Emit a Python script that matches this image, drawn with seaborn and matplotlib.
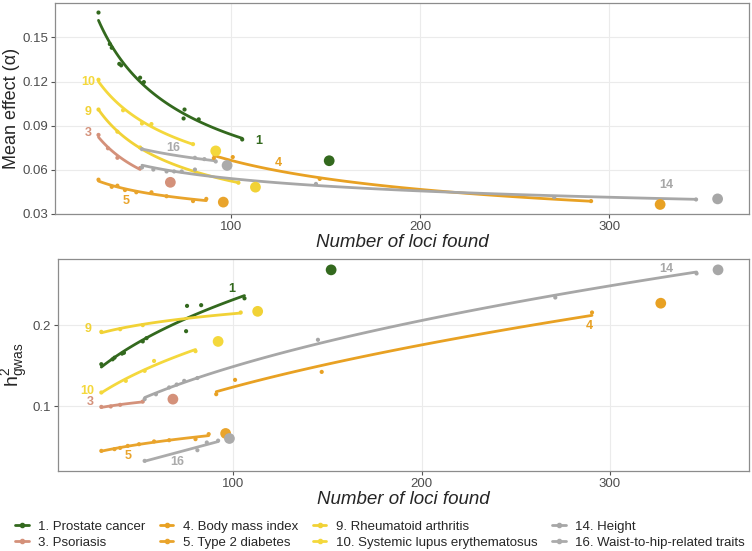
import numpy as np
import pandas as pd
import seaborn as sns
import matplotlib
matplotlib.use("Agg")
import matplotlib.pyplot as plt
from matplotlib.lines import Line2D

# ---------------- data ----------------
traits = ["1. Prostate cancer", "3. Psoriasis", "4. Body mass index", "5. Type 2 diabetes",
          "9. Rheumatoid arthritis", "10. Systemic lupus erythematosus", "14. Height",
          "16. Waist-to-hip-related traits"]
tags = ["1", "3", "4", "5", "9", "10", "14", "16"]
colors = ["#33691E", "#D4917A", "#E8A123", "#E9A42C", "#F1D236", "#F4D83C", "#A7A7A7", "#ABABAB"]

loci_1 = [30, 36, 37, 41, 42, 52, 54, 75, 75.5, 83, 106]
alpha_1 = [0.167, 0.1455, 0.143, 0.132, 0.131, 0.1226, 0.1196, 0.0948, 0.1009, 0.0942, 0.0805]
h2_1 = [0.152, 0.158, 0.160, 0.165, 0.166, 0.180, 0.184, 0.1926, 0.2237, 0.2246, 0.233]

loci_3 = [30, 35, 40, 52]
alpha_3 = [0.0836, 0.0745, 0.068, 0.061]
h2_3 = [0.0995, 0.100, 0.102, 0.106]

loci_4 = [91, 101, 147, 290.5]
alpha_4 = [0.0678, 0.0685, 0.0536, 0.0385]
h2_4 = [0.1151, 0.1327, 0.1425, 0.2156]

loci_5 = [30, 37, 40, 44, 50, 58, 66, 80, 87]
alpha_5 = [0.0531, 0.0482, 0.049, 0.046, 0.0445, 0.0445, 0.0418, 0.0385, 0.040]
h2_5 = [0.0454, 0.0475, 0.049, 0.0515, 0.0536, 0.057, 0.0585, 0.0598, 0.066]

loci_9 = [30, 40, 52, 104]
alpha_9 = [0.1009, 0.0858, 0.075, 0.051]
h2_9 = [0.1918, 0.195, 0.200, 0.2156]

loci_10 = [30, 43, 53, 58, 80]
alpha_10 = [0.1212, 0.1004, 0.0914, 0.091, 0.0773]
h2_10 = [0.1172, 0.1315, 0.1438, 0.156, 0.168]

loci_14 = [53, 59, 66, 70, 74, 81, 145, 271, 346]
alpha_14 = [0.0614, 0.060, 0.0587, 0.0587, 0.0587, 0.060, 0.0502, 0.0412, 0.0396]
h2_14 = [0.109, 0.115, 0.1234, 0.127, 0.1315, 0.135, 0.182, 0.234, 0.2636]

loci_16 = [53, 81, 86, 92]
alpha_16 = [0.0739, 0.068, 0.0671, 0.0655]
h2_16 = [0.0331, 0.0462, 0.0557, 0.058]

full_loci = [152, 68, 327, 96, 113, 92, 357.4, 98]
full_alpha = [0.066, 0.0513, 0.0362, 0.0378, 0.048, 0.0727, 0.040, 0.0628]
full_h2 = [0.268, 0.109, 0.227, 0.0668, 0.217, 0.180, 0.268, 0.0606]

lab_x_top = [114.7, 24.6, 124.9, 44.6, 24.6, 24.6, 330.2, 69.7]
lab_y_top = [0.0795, 0.0847, 0.0644, 0.0389, 0.0993, 0.1196, 0.0498, 0.0745]
lab_x_bot = [99.5, 24.1, 288.8, 44.5, 23.2, 22.3, 330.0, 70.2]
lab_y_bot = [0.2443, 0.105, 0.199, 0.0392, 0.195, 0.1192, 0.269, 0.0323]

series_loci = [loci_1, loci_3, loci_4, loci_5, loci_9, loci_10, loci_14, loci_16]
series_alpha = [alpha_1, alpha_3, alpha_4, alpha_5, alpha_9, alpha_10, alpha_14, alpha_16]
series_h2 = [h2_1, h2_3, h2_4, h2_5, h2_9, h2_10, h2_14, h2_16]

rows = []
for t, lx, la, lh in zip(traits, series_loci, series_alpha, series_h2):
    for x, a, h in zip(lx, la, lh):
        rows.append({"trait": t, "loci": x, "alpha": a, "h2": h})
df = pd.DataFrame(rows)
full = pd.DataFrame({"trait": traits, "loci": full_loci, "alpha": full_alpha, "h2": full_h2})
palette = dict(zip(traits, colors))

# ---------------- style ----------------
sns.set_theme(style="white")
plt.rcParams["font.family"] = ["Liberation Sans", "DejaVu Sans"]
plt.rcParams["mathtext.fontset"] = "custom"
plt.rcParams["mathtext.rm"] = "Liberation Sans"
plt.rcParams["mathtext.it"] = "Liberation Sans:italic"

fig = plt.figure(figsize=(7.52, 5.51), dpi=100)
ax1 = fig.add_axes([55 / 752, 1 - 214 / 551, 694 / 752, 211 / 551])
ax2 = fig.add_axes([58 / 752, 1 - 470.7 / 551, 691.3 / 752, 211.4 / 551])


def draw(ax, ycol, lab_x, lab_y):
    for t, c in zip(traits, colors):
        sub = df[df.trait == t]
        b, a = np.polyfit(np.log(sub.loci), np.log(sub[ycol]), 1)
        xs = np.linspace(sub.loci.min(), sub.loci.max(), 80)
        fit = pd.DataFrame({"loci": xs, ycol: np.exp(a + b * np.log(xs))})
        sns.lineplot(data=fit, x="loci", y=ycol, color=c, lw=2.0, ax=ax, zorder=3)
    sns.scatterplot(data=df, x="loci", y=ycol, hue="trait", palette=palette, s=9,
                    linewidth=0, ax=ax, legend=False, zorder=4)
    sns.scatterplot(data=full, x="loci", y=ycol, hue="trait", palette=palette, s=60,
                    linewidth=0, ax=ax, legend=False, zorder=5)
    for tg, c, x, y in zip(tags, colors, lab_x, lab_y):
        ax.text(x, y, tg, color=c, fontsize=9, fontweight="bold", ha="center", va="center")
    ax.set_xlim(7, 374)
    ax.set_xticks([100, 200, 300])
    ax.grid(True, color="#EBEBEB", lw=0.8)
    ax.set_axisbelow(True)
    for s in ax.spines.values():
        s.set_color("#8C8C8C")
        s.set_linewidth(0.9)
    ax.tick_params(axis="both", which="major", length=3, width=0.8, color="#555555",
                   labelsize=9.5, labelcolor="#4D4D4D", pad=2, bottom=True, left=True)
    ax.set_xlabel("Number of loci found", fontsize=13.5, style="italic", labelpad=1)


draw(ax1, "alpha", lab_x_top, lab_y_top)
ax1.set_ylim(0.0297, 0.1735)
ax1.set_yticks([0.03, 0.06, 0.09, 0.12, 0.15])
ax1.set_yticklabels(["0.03", "0.06", "0.09", "0.12", "0.15"])
ax1.set_ylabel("Mean effect (α)", fontsize=13)
ax1.yaxis.set_label_coords(-0.05, 0.5)

draw(ax2, "h2", lab_x_bot, lab_y_bot)
ax2.set_ylim(0.021, 0.281)
ax2.set_yticks([0.1, 0.2])
ax2.set_yticklabels(["0.1", "0.2"])
ax2.set_ylabel(r"$\mathrm{h}^{2}_{\mathrm{gwas}}$", fontsize=14)
ax2.yaxis.set_label_coords(-0.04, 0.5)

handles = [Line2D([0], [0], color=c, lw=2, marker="o", markersize=3) for c in colors]
fig.legend(handles, traits, loc="lower left", bbox_to_anchor=(0.01, -0.01), ncol=4,
           frameon=False, fontsize=9.5, handlelength=1.0, handletextpad=0.7,
           columnspacing=1.15, labelspacing=0.25, borderaxespad=0.2)

fig.savefig("out.png", dpi=100)
